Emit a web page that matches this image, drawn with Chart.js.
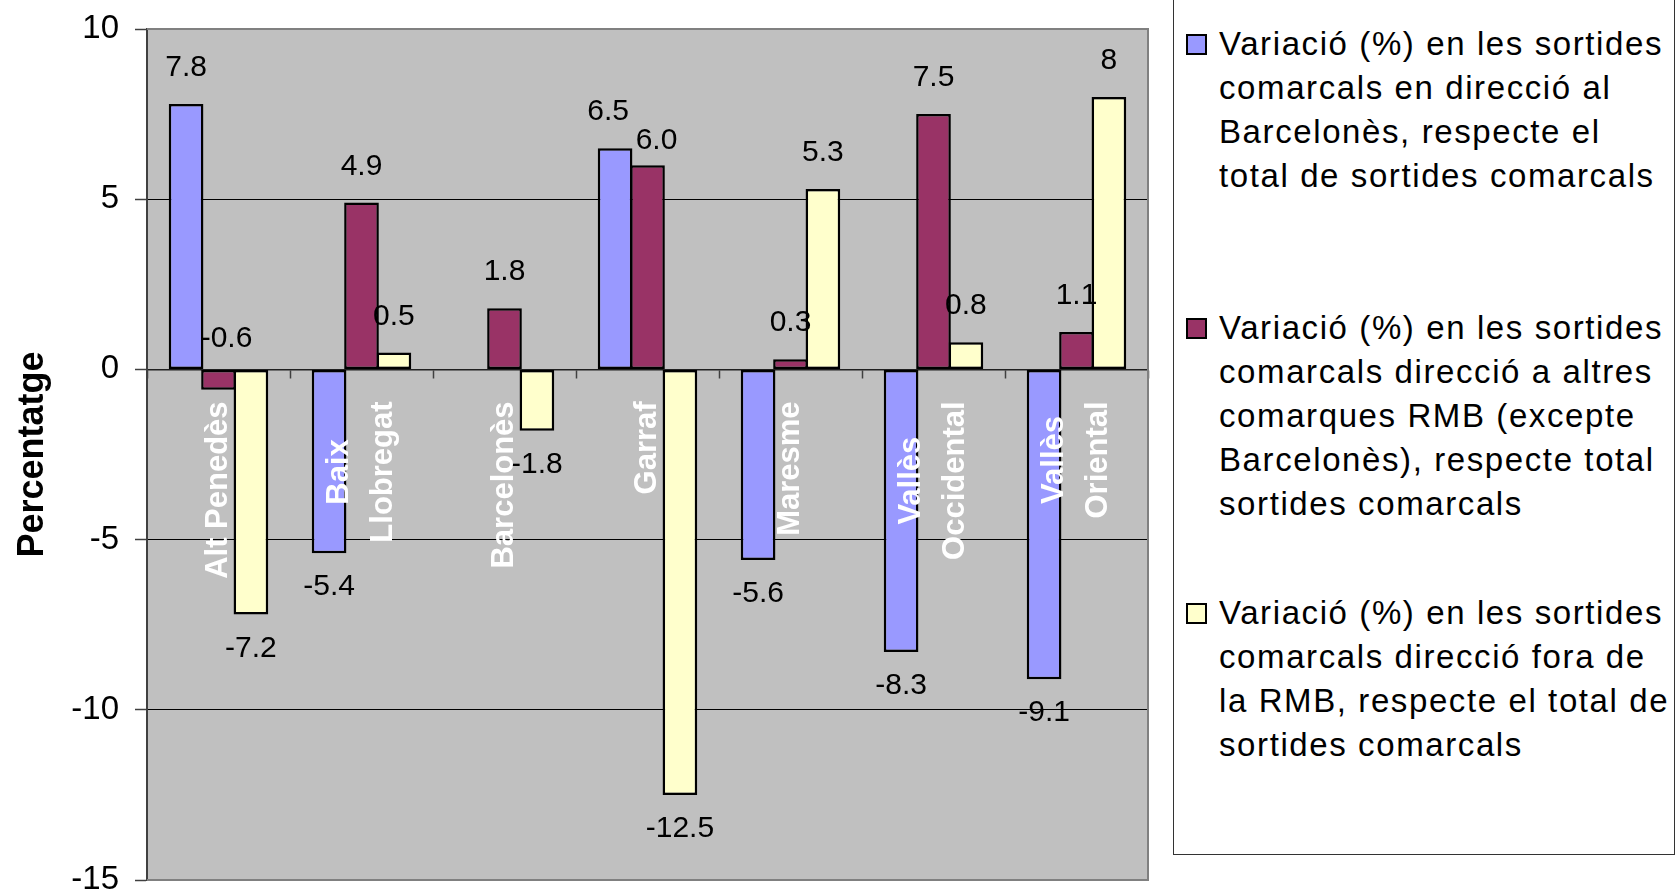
<!DOCTYPE html>
<html>
<head>
<meta charset="utf-8">
<script src="https://cdn.jsdelivr.net/npm/chart.js@4.4.1/dist/chart.umd.min.js"></script>
<style>
html,body{margin:0;padding:0;background:#fff;overflow:hidden;}
#wrap{position:relative;width:1680px;height:891px;}
#c{position:absolute;left:0;top:0;}
#legend{position:absolute;left:1173px;top:-2px;width:502px;height:857px;border:1.5px solid #333;box-sizing:border-box;background:#fff;
  font-family:'Liberation Sans',Arial,sans-serif;font-size:33px;letter-spacing:1.6px;line-height:44px;color:#000;}
.item{position:absolute;left:0;right:0;}
.mk{position:absolute;left:12px;top:12px;width:17px;height:17px;border:2px solid #000;}
.tx{position:absolute;left:45px;top:0;white-space:nowrap;}
</style>
</head>
<body>
<div id="wrap">
<canvas id="c" width="1680" height="891"></canvas>
<div id="legend"></div>
</div>
<script>
// ---- data ----
const categories = [['Alt Penedès'], ['Baix', 'Llobregat'], ['Barcelonès'], ['Garraf'], ['Maresme'], ['Vallès', 'Occidental'], ['Vallès', 'Oriental']];
const seriesBarcelones = [7.8, -5.4, null, 6.5, -5.6, -8.3, -9.1];
const seriesAltresRMB = [-0.6, 4.9, 1.8, 6.0, 0.3, 7.5, 1.1];
const seriesForaRMB = [-7.2, 0.5, -1.8, -12.5, 5.3, 0.8, 8];
const labelDecimals = [1, 1, null];
const yTickValues = [10, 5, 0, -5, -10, -15];
const yAxisTitle = 'Percentatge';
const legendLines = [
  ['Variació (%) en les sortides', 'comarcals en direcció al', 'Barcelonès, respecte el', 'total de sortides comarcals'],
  ['Variació (%) en les sortides', 'comarcals direcció a altres', 'comarques RMB (excepte', 'Barcelonès), respecte total', 'sortides comarcals'],
  ['Variació (%) en les sortides', 'comarcals direcció fora de', 'la RMB, respecte el total de', 'sortides comarcals']
];
const seriesColors = ['#9999FF', '#993366', '#FFFFCC'];

// ---- legend (HTML) ----
const legendTops = [23, 307, 592];
const legendEl = document.getElementById('legend');
legendLines.forEach((lines, i) => {
  const it = document.createElement('div');
  it.className = 'item';
  it.style.top = legendTops[i] + 'px';
  const mk = document.createElement('div');
  mk.className = 'mk';
  mk.style.background = seriesColors[i];
  const tx = document.createElement('div');
  tx.className = 'tx';
  tx.innerHTML = lines.map(l => l.replace(/&/g, '&amp;')).join('<br>');
  it.appendChild(mk); it.appendChild(tx);
  legendEl.appendChild(it);
});

const FONT = "'Liberation Sans', Arial, sans-serif";

const plotBg = {
  id: 'plotBg',
  beforeDraw(chart) {
    const {ctx, chartArea: a} = chart;
    ctx.save();
    ctx.fillStyle = '#C0C0C0';
    ctx.fillRect(a.left, a.top, a.right - a.left, a.bottom - a.top);
    ctx.restore();
  },
  afterDraw(chart) {
    const {ctx, chartArea: a} = chart;
    ctx.save();
    ctx.strokeStyle = '#808080';
    ctx.lineWidth = 2;
    ctx.beginPath();
    ctx.moveTo(a.left, a.top);
    ctx.lineTo(a.right, a.top);
    ctx.lineTo(a.right, a.bottom);
    ctx.lineTo(a.left, a.bottom);
    ctx.stroke();
    ctx.restore();
  }
};

const valueLabels = {
  id: 'valueLabels',
  afterDatasetsDraw(chart) {
    const {ctx} = chart;
    const y0 = chart.scales.y.getPixelForValue(0);
    ctx.save();
    ctx.font = '30px ' + FONT;
    ctx.fillStyle = '#000';
    ctx.textAlign = 'center';
    ctx.textBaseline = 'middle';
    const h = 24;
    const nCat = categories.length;
    const boxes = chart.data.datasets.map(() => []);
    chart.data.datasets.forEach((ds, di) => {
      const meta = chart.getDatasetMeta(di);
      meta.data.forEach((el, i) => {
        const v = ds.data[i];
        if (v === null || v === undefined) { boxes[di][i] = null; return; }
        const txt = labelDecimals[di] === null ? String(v) : v.toFixed(labelDecimals[di]);
        let x = el.x, y;
        if (v >= 0) y = el.y - 36;
        else if (v > -1) { y = y0 - 31; x = el.x + 8; }
        else y = el.y + 34;
        boxes[di][i] = {txt, x, y, w: ctx.measureText(txt).width};
      });
    });
    // simple collision avoidance between neighbouring labels of a category
    for (let i = 0; i < nCat; i++) {
      for (let di = 0; di < boxes.length - 1; di++) {
        const a = boxes[di][i], b = boxes[di + 1][i];
        if (!a || !b) continue;
        const overlapX = Math.abs(a.x - b.x) < (a.w + b.w) / 2;
        const overlapY = Math.abs(a.y - b.y) < h;
        if (overlapX && overlapY) {
          a.x -= 7; b.x += 9; b.y += 12;
        }
      }
    }
    boxes.forEach(list => list.forEach(bx => { if (bx) ctx.fillText(bx.txt, bx.x, bx.y); }));
    ctx.restore();
  }
};

const catLabels = {
  id: 'catLabels',
  afterDatasetsDraw(chart) {
    const {ctx} = chart;
    const xs = chart.scales.x;
    const y0 = chart.scales.y.getPixelForValue(0);
    ctx.save();
    ctx.font = 'bold 31px ' + FONT;
    ctx.fillStyle = '#FFFFFF';
    ctx.textAlign = 'center';
    ctx.textBaseline = 'middle';
    const lh = 44;
    categories.forEach((lines, i) => {
      const cx = xs.getPixelForValue(i);
      const maxW = Math.max(...lines.map(l => ctx.measureText(l).width));
      const cy = y0 + 32 + maxW / 2;
      lines.forEach((l, j) => {
        const x = cx + (j - (lines.length - 1) / 2) * lh;
        ctx.save();
        ctx.translate(x, cy);
        ctx.rotate(-Math.PI / 2);
        ctx.fillText(l, 0, 0);
        ctx.restore();
      });
    });
    ctx.restore();
  }
};

function noPad(s) { s.paddingTop = 0; s.paddingBottom = 0; s.paddingLeft = 0; s.paddingRight = 0; }

const ctx = document.getElementById('c').getContext('2d');
const barBase = {borderColor: '#000', borderWidth: 2.5, borderSkipped: false, categoryPercentage: 0.68, barPercentage: 1.07};
new Chart(ctx, {
  type: 'bar',
  data: {
    labels: categories.map(c => c.join(' ')),
    datasets: [
      Object.assign({label: legendLines[0].join(' '), data: seriesBarcelones, backgroundColor: seriesColors[0]}, barBase),
      Object.assign({label: legendLines[1].join(' '), data: seriesAltresRMB, backgroundColor: seriesColors[1]}, barBase),
      Object.assign({label: legendLines[2].join(' '), data: seriesForaRMB, backgroundColor: seriesColors[2]}, barBase)
    ]
  },
  options: {
    responsive: false,
    animation: false,
    events: [],
    layout: {padding: {left: 0, top: 29, right: 532, bottom: 11}},
    plugins: {legend: {display: false}, tooltip: {enabled: false}},
    scales: {
      x: {
        type: 'category',
        position: {y: 0},
        grid: {display: true, drawOnChartArea: false, drawTicks: true, tickLength: 8, tickColor: '#404040', tickWidth: 1.5, offset: true},
        border: {display: true, color: '#202020', width: 1.5},
        ticks: {display: false},
        afterFit(s) { s.height = 0; noPad(s); }
      },
      y: {
        min: -15, max: 10,
        afterBuildTicks(s) { s.ticks = yTickValues.map(v => ({value: v})); },
        ticks: {color: '#000', font: {family: FONT, size: 33}, padding: 16},
        grid: {
          color: c => (c.tick && [5, -5, -10].includes(c.tick.value)) ? '#000' : 'rgba(0,0,0,0)',
          lineWidth: 1, drawTicks: true, tickLength: 12, tickColor: '#404040', tickWidth: 1.5
        },
        border: {display: true, color: '#404040', width: 2},
        title: {display: true, text: yAxisTitle, color: '#000', font: {family: FONT, size: 36, weight: 'bold'}, padding: {top: 11, bottom: 0}},
        afterFit(s) { s.width = 147; noPad(s); }
      }
    }
  },
  plugins: [plotBg, valueLabels, catLabels]
});
</script>
</body>
</html>
